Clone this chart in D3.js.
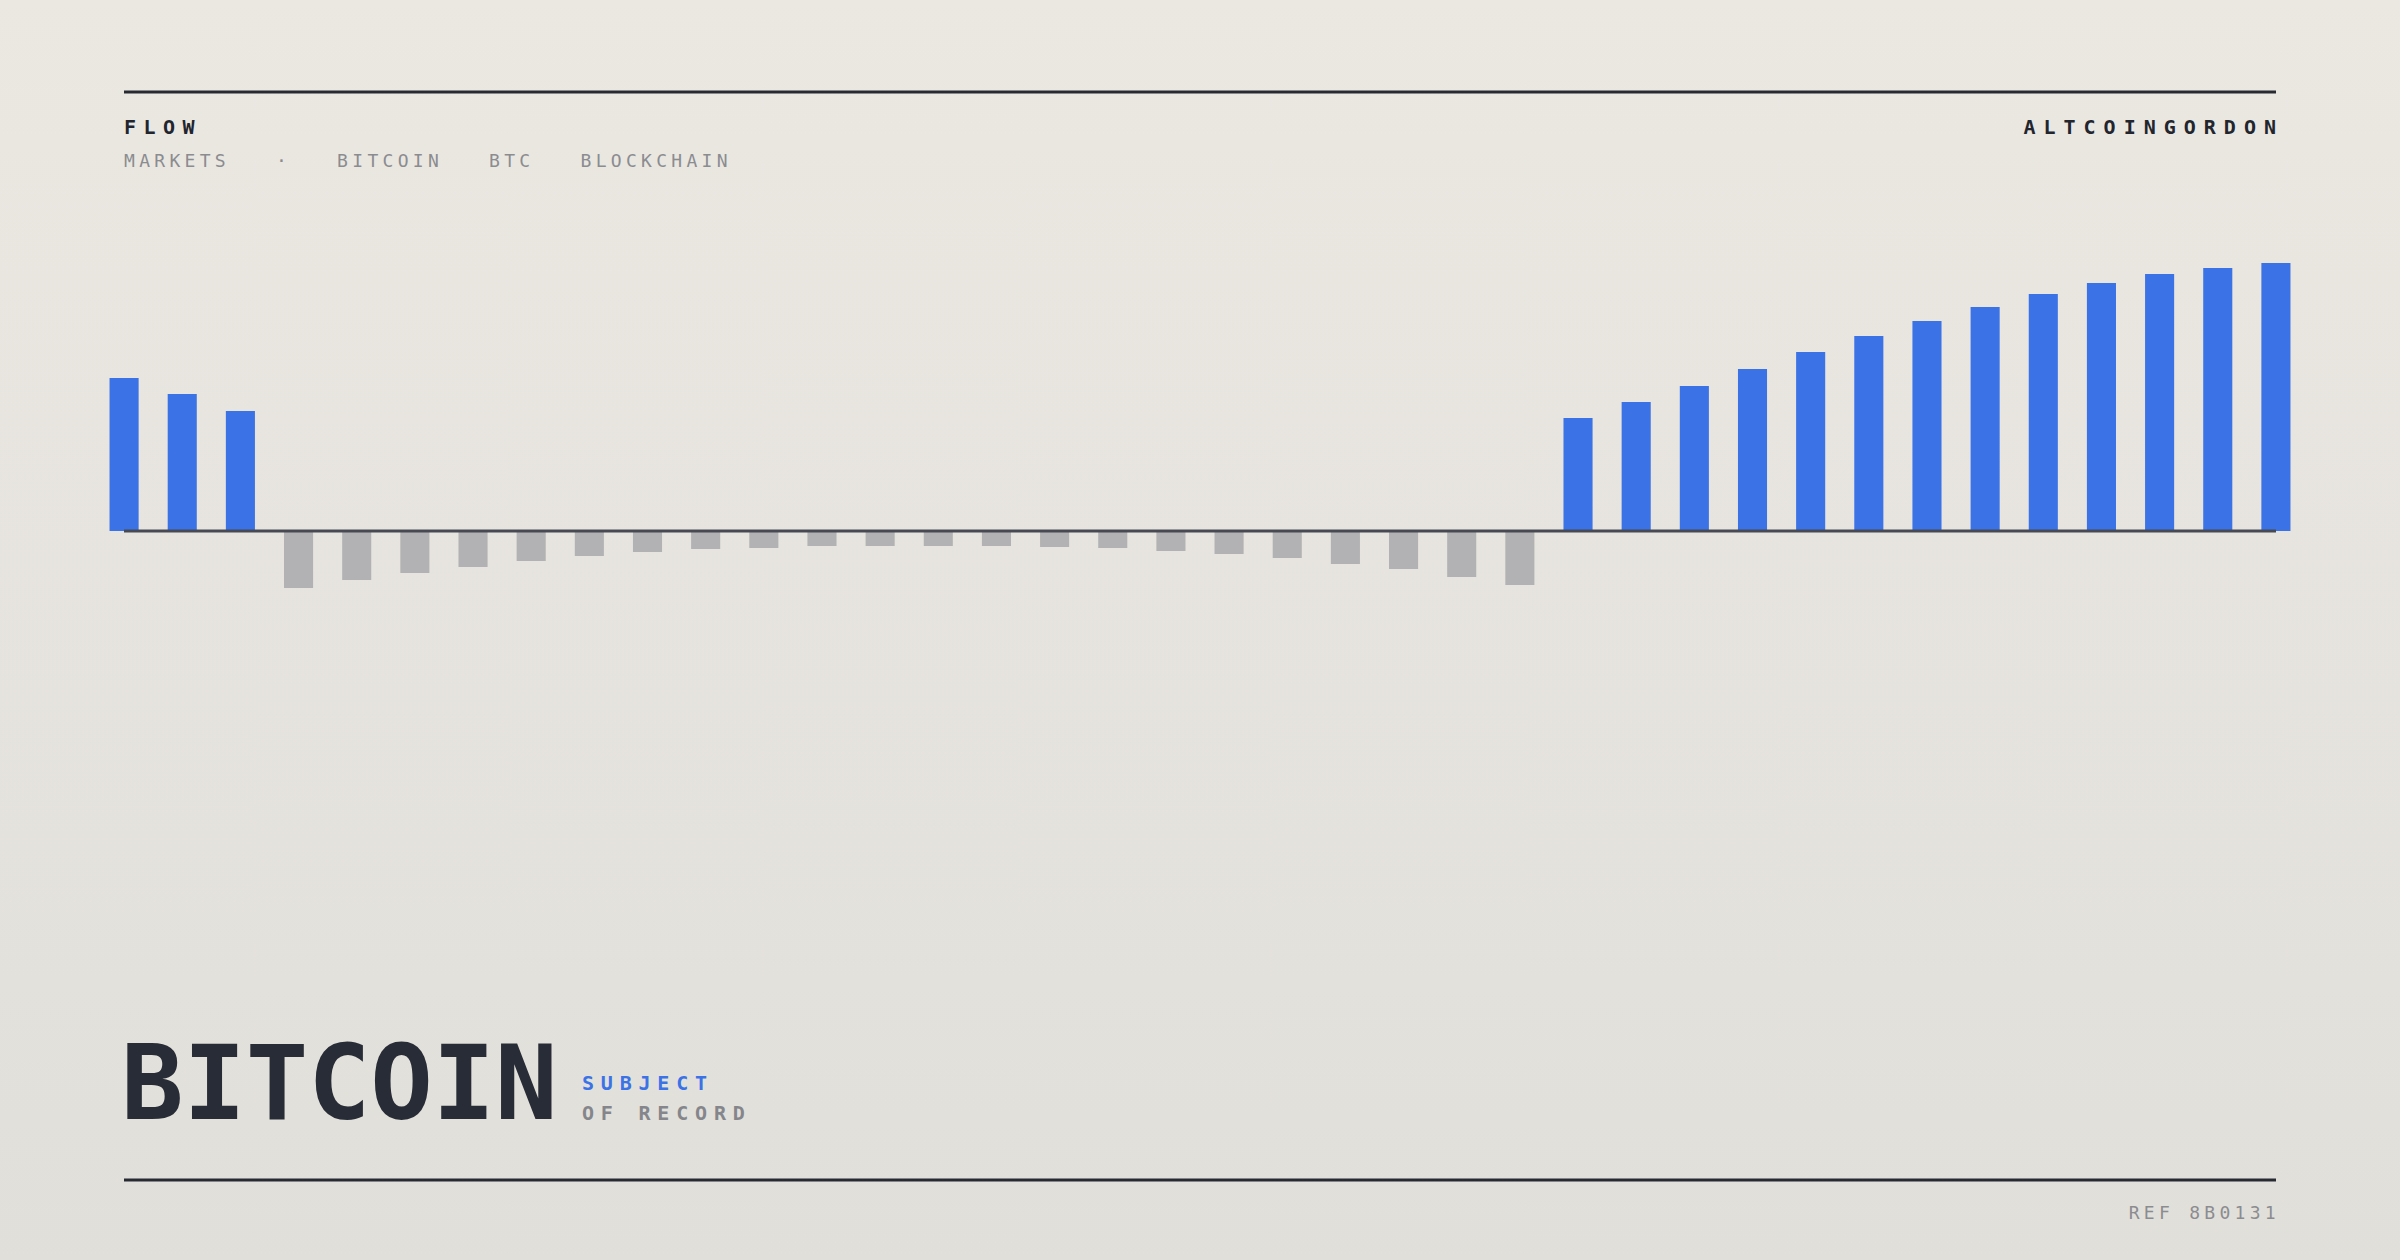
<!DOCTYPE html>
<html>
<head>
<meta charset="utf-8">
<script src="https://cdn.jsdelivr.net/npm/d3@7"></script>
<style>
  html, body { margin: 0; padding: 0; background: #e7e4de; }
  svg { display: block; }
</style>
</head>
<body>
<div id="chart"></div>
<script>
// ---- data ----
const categories = d3.range(1, 39).map(i => "P" + String(i).padStart(2, "0"));
const flowValues = [
  153, 137, 120,
  -57, -49, -42, -36, -30, -25, -21, -18, -17, -15, -15, -15, -15, -16, -17, -20, -23, -27, -33, -38, -46, -54,
  113, 129, 145, 162, 179, 195, 210, 224, 237, 248, 257, 263, 268
];
const tags = ["MARKETS", "·", "BITCOIN", "BTC", "BLOCKCHAIN"];
const headerLeft = "FLOW";
const headerRight = "ALTCOINGORDON";
const titleMain = "BITCOIN";
const titleSub1 = "SUBJECT";
const titleSub2 = "OF RECORD";
const refLabel = "REF 8B0131";

// ---- layout ----
const W = 2400, H = 1260;
const left = 124, right = 2276;
const baseY = 531;
const mono = "'DejaVu Sans Mono', 'Liberation Mono', monospace";

const svg = d3.select("#chart").append("svg")
  .attr("width", W).attr("height", H).attr("viewBox", `0 0 ${W} ${H}`);

const defs = svg.append("defs");
const grad = defs.append("linearGradient").attr("id", "bg")
  .attr("x1", 0).attr("y1", 0).attr("x2", 0).attr("y2", 1);
grad.append("stop").attr("offset", "0%").attr("stop-color", "#ebe8e2");
grad.append("stop").attr("offset", "100%").attr("stop-color", "#e1dfda");
svg.append("rect").attr("width", W).attr("height", H).attr("fill", "url(#bg)");

// rules
svg.append("line").attr("x1", left).attr("x2", right).attr("y1", 92).attr("y2", 92)
  .attr("stroke", "#272a33").attr("stroke-width", 3);
svg.append("line").attr("x1", left).attr("x2", right).attr("y1", 1180).attr("y2", 1180)
  .attr("stroke", "#272a33").attr("stroke-width", 3);

// header
svg.append("text").attr("x", left).attr("y", 134)
  .attr("font-family", mono).attr("font-weight", "bold").attr("font-size", 20)
  .attr("letter-spacing", 7.5).attr("fill", "#22252d").text(headerLeft);
svg.append("text").attr("x", right + 8).attr("y", 134).attr("text-anchor", "end")
  .attr("font-family", mono).attr("font-weight", "bold").attr("font-size", 20)
  .attr("letter-spacing", 8).attr("fill", "#22252d").text(headerRight);

// tags
let tx = left;
tags.forEach(t => {
  const el = svg.append("text").attr("x", tx).attr("y", 167)
    .attr("font-family", mono).attr("font-size", 18)
    .attr("letter-spacing", 4.3).attr("fill", "#8b8c90").text(t);
  tx += el.node().getComputedTextLength() + 46;
});

// bars
const x = d3.scaleBand().domain(categories).range([left - 29, right + 29]).paddingInner(0.5).paddingOuter(0.25);
const ext = d3.extent(flowValues);
const y = d3.scaleLinear().domain([0, ext[1]]).range([baseY, baseY - 268]);

svg.append("g").selectAll("rect").data(flowValues).join("rect")
  .attr("x", (d, i) => x(categories[i]))
  .attr("width", x.bandwidth())
  .attr("y", d => d >= 0 ? y(d) : y(0))
  .attr("height", d => Math.abs(y(d) - y(0)))
  .attr("fill", d => d >= 0 ? "#3b72e6" : "#b2b2b4");

// baseline
svg.append("line").attr("x1", left).attr("x2", right).attr("y1", y(0)).attr("y2", y(0))
  .attr("stroke", "#474a52").attr("stroke-width", 3);

// title
svg.append("text").attr("x", left - 3).attr("y", 1119)
  .attr("font-family", mono).attr("font-weight", "bold").attr("font-size", 104)
  .attr("letter-spacing", -0.3).attr("fill", "#282c36").text(titleMain);
svg.append("text").attr("x", 582).attr("y", 1090)
  .attr("font-family", mono).attr("font-weight", "bold").attr("font-size", 20)
  .attr("letter-spacing", 6.8).attr("fill", "#3b72e6").text(titleSub1);
svg.append("text").attr("x", 582).attr("y", 1120)
  .attr("font-family", mono).attr("font-weight", "bold").attr("font-size", 20)
  .attr("letter-spacing", 6.8).attr("fill", "#85868b").text(titleSub2);

// ref
svg.append("text").attr("x", right + 4).attr("y", 1219).attr("text-anchor", "end")
  .attr("font-family", mono).attr("font-size", 18)
  .attr("letter-spacing", 4.3).attr("fill", "#8b8c90").text(refLabel);
</script>
</body>
</html>
